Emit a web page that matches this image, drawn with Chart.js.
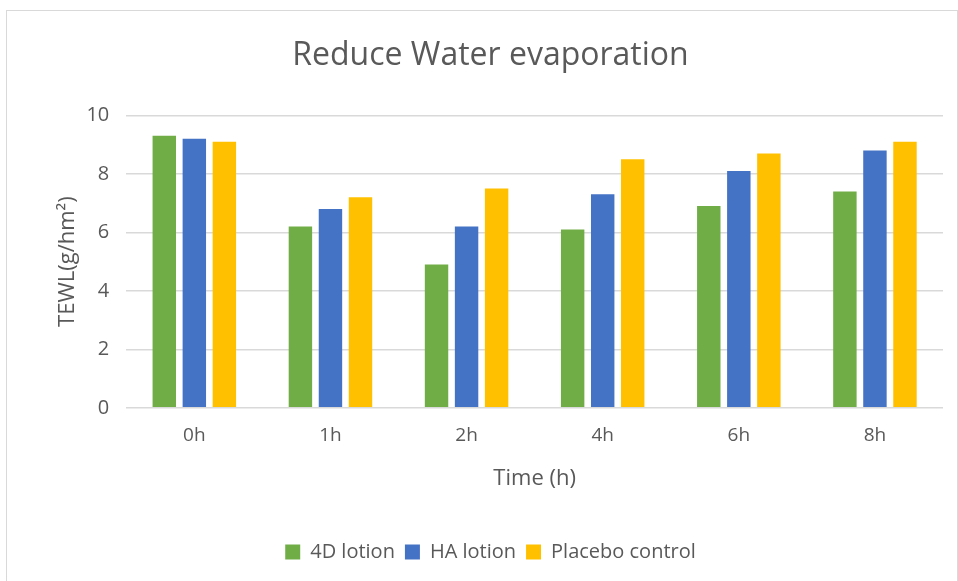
<!DOCTYPE html>
<html>
<head>
<meta charset="utf-8">
<script src="https://cdn.jsdelivr.net/npm/chart.js@4"></script>
<style>
  html, body { margin: 0; padding: 0; background: #fff; }
  #frame {
    position: absolute; left: 6px; top: 10px;
    width: 952px; height: 580px;
    border: 1px solid #d9d9d9; box-sizing: border-box;
  }
</style>
</head>
<body>
<div id="frame"><canvas id="chart" width="950" height="570"></canvas></div>
<script>
// values
const times = ['0h', '1h', '2h', '4h', '6h', '8h'];
const lotion4D = [9.3, 6.2, 4.9, 6.1, 6.9, 7.4];
const lotionHA = [9.2, 6.8, 6.2, 7.3, 8.1, 8.8];
const placebo = [9.1, 7.2, 7.5, 8.5, 8.7, 9.1];
const yTicks = [0, 2, 4, 6, 8, 10];

const grey = '#595959';
const font = "'Open Sans', sans-serif";

new Chart(document.getElementById('chart'), {
  type: 'bar',
  data: {
    labels: times,
    datasets: [
      { label: '4D lotion', data: lotion4D, backgroundColor: '#70AD47' },
      { label: 'HA lotion', data: lotionHA, backgroundColor: '#4472C4' },
      { label: 'Placebo control', data: placebo, backgroundColor: '#FFC000' }
    ]
  },
  options: {
    responsive: false,
    animation: false,
    categoryPercentage: 0.662,
    barPercentage: 0.78,
    layout: { padding: { left: 31, right: 14, top: 10, bottom: 9 } },
    plugins: {
      title: {
        display: true,
        text: 'Reduce Water evaporation',
        color: grey,
        font: { family: font, size: 32, weight: 'normal' },
        padding: { top: 16, bottom: 40 }
      },
      legend: {
        position: 'bottom',
        labels: {
          color: grey,
          font: { family: font, size: 20 },
          boxWidth: 15, boxHeight: 15,
          padding: 10
        }
      },
      tooltip: { enabled: false }
    },
    scales: {
      x: {
        grid: { display: false },
        border: { display: false },
        ticks: { color: grey, font: { family: font, size: 19 }, padding: 8 },
        title: {
          display: true, text: 'Time (h)', color: grey,
          font: { family: font, size: 22 }, padding: { top: 11, bottom: 40 }
        }
      },
      y: {
        min: 0, max: 10,
        afterBuildTicks: (axis) => { axis.ticks = yTicks.map(v => ({ value: v })); },
        grid: { color: '#d9d9d9', lineWidth: 1.5, drawTicks: false },
        border: { display: false },
        ticks: { color: grey, font: { family: font, size: 20 }, padding: 17 },
        title: {
          display: true, text: 'TEWL(g/hm²)', color: grey,
          font: { family: font, size: 22 }, padding: { top: 17, bottom: -12 }
        }
      }
    }
  }
});
</script>
</body>
</html>
